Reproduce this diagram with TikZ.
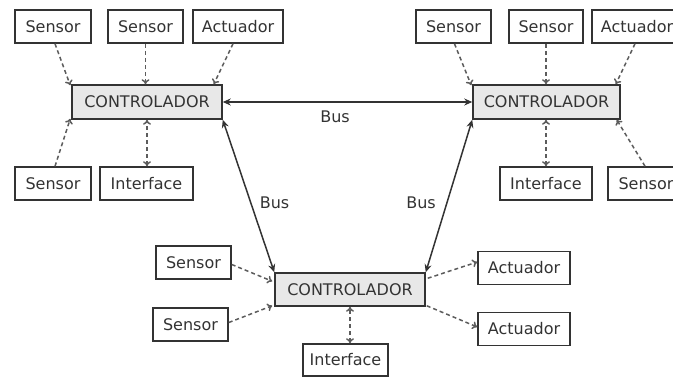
\documentclass[tikz,border=0pt]{standalone}
\usepackage{fontspec}
\setmainfont{DejaVu Sans}
\usetikzlibrary{arrows.meta}
\definecolor{ink}{HTML}{333333}
\definecolor{ctrlfill}{HTML}{E8E8E8}
\tikzset{
  box/.style={draw=ink, line width=1.5pt, text=ink, inner sep=1pt,
              minimum height=33pt, font=\fontsize{16}{18}\selectfont},
  ctrl/.style={box, fill=ctrlfill, minimum width=150pt, minimum height=34pt},
  buslink/.style={line width=1.5pt, draw=ink, {Stealth[length=8pt,width=7pt]}-{Stealth[length=8pt,width=7pt]}},
  sig/.style={line width=1.5pt, draw=ink!80, dash pattern=on 4pt off 3pt, -{To[length=5pt,width=8pt]}},
  sigboth/.style={sig, {To[length=5pt,width=8pt]}-{To[length=5pt,width=8pt]}},
  buslabel/.style={text=ink, inner sep=0pt, font=\fontsize{16}{18}\selectfont},
}
\begin{document}
\begin{tikzpicture}[x=1pt, y=-1pt]
\useasboundingbox (0,0) rectangle (673,376);
\clip (0,0) rectangle (673,376);

% controller on the left
\node[ctrl] (c1) at (147,102) {CONTROLADOR};
\node[box, minimum width=76pt] (s1) at (53,26.5) {Sensor};
\node[box, minimum width=75pt] (s2) at (145.5,26.5) {Sensor};
\node[box, minimum width=90pt] (a1) at (238,26.5) {Actuador};
\node[box, minimum width=76pt] (s3) at (53,183.5) {Sensor};
\node[box, minimum width=93pt] (i1) at (146.5,183.5) {Interface};

% controller on the right
\node[ctrl, minimum width=147pt] (c2) at (546.5,102) {CONTROLADOR};
\node[box, minimum width=75pt] (s4) at (453.5,26.5) {Sensor};
\node[box, minimum width=74pt] (s5) at (546,26.5) {Sensor};
\node[box, minimum width=90pt] (a2) at (637,26.5) {Actuador};
\node[box, minimum width=92pt] (i2) at (546,183.5) {Interface};
\node[box, minimum width=76pt] (s6) at (646,183.5) {Sensor};

% controller at the bottom
\node[ctrl, minimum height=33pt] (c3) at (350,289.5) {CONTROLADOR};
\node[box, minimum width=75pt] (s7) at (193.5,262.5) {Sensor};
\node[box, minimum width=75pt] (s8) at (190.5,324.5) {Sensor};
\node[box, minimum width=92pt] (a3) at (524,268) {Actuador};
\node[box, minimum width=92pt] (a4) at (524,329) {Actuador};
\node[box, minimum width=85pt, minimum height=32pt] (i3) at (345.5,360) {Interface};

% bus links between controllers
\draw[buslink] (c1.east) -- (c2.west);
\draw[buslink] (c1.south east) -- (c3.north west);
\draw[buslink] (c2.south west) -- (c3.north east);
\node[buslabel] (b1) at (335,117) {Bus};
\node[buslabel] (b2) at (274.5,203) {Bus};
\node[buslabel] (b3) at (421,203) {Bus};

% signals of the left controller
\draw[sig] ([xshift=2pt]s1.south) -- ([xshift=-1pt,yshift=-1pt]c1.north west);
\draw[sig] (s2.south) -- (s2.south |- c1.north);
\draw[sig] ([xshift=-5pt]a1.south) -- ([xshift=-9pt]c1.north east);
\draw[sig] ([xshift=2pt]s3.north) -- ([xshift=-1pt,yshift=1pt]c1.south west);
\draw[sigboth] (i1.north -| c1.south) -- (c1.south);

% signals of the right controller
\draw[sig] ([xshift=1pt]s4.south) -- ([xshift=-1pt,yshift=-1pt]c2.north west);
\draw[sig] (s5.south) -- (s5.south |- c2.north);
\draw[sig] ([xshift=-2pt]a2.south) -- ([xshift=-5pt]c2.north east);
\draw[sig] ([xshift=-1pt]s6.north) -- ([xshift=-4pt]c2.south east);
\draw[sigboth] (i2.north) -- (i2.north |- c2.south);

% signals of the bottom controller
\draw[sig] ([yshift=-2pt]s7.east) -- ([xshift=-2pt,yshift=-9pt]c3.north west);
\draw[sig] ([yshift=2pt]s8.east) -- ([xshift=-2pt,yshift=1pt]c3.south west);
\draw[sig] ([xshift=2pt,yshift=-6pt]c3.north east) -- ([yshift=6pt]a3.west);
\draw[sig] ([xshift=1pt,yshift=1pt]c3.south east) -- ([yshift=2pt]a4.west);
\draw[sigboth] (i3.north -| c3.south) -- (c3.south);
\end{tikzpicture}
\end{document}
